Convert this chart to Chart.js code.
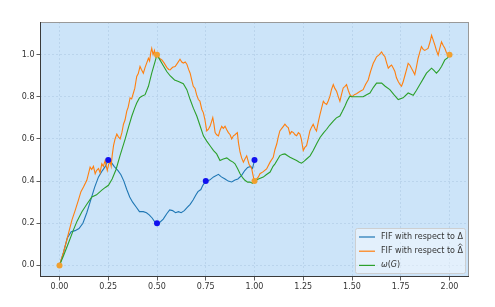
<!DOCTYPE html>
<html>
<head>
<meta charset="utf-8">
<script src="https://cdn.jsdelivr.net/npm/chart.js@4/dist/chart.umd.min.js"></script>
<style>
  html, body { margin: 0; padding: 0; background: #fff; }
  #wrap { width: 495px; height: 307px; }
</style>
</head>
<body>
<div id="wrap"><canvas id="chart" width="495" height="307"></canvas></div>
<script>
// ------------------------------------------------------------
//  Data
// ------------------------------------------------------------
const labels = ['FIF with respect to Δ', 'FIF with respect to Δ̂', 'ω(G)']

const xTicks = [0, 0.25, 0.5, 0.75, 1, 1.25, 1.5, 1.75, 2]
const yTicks = [0, 0.2, 0.4, 0.6, 0.8, 1.0]

const blueX = [0, 0.02, 0.04, 0.06, 0.08, 0.10, 0.12, 0.14, 0.16, 0.18, 0.20, 0.22, 0.235, 0.25,
  0.265, 0.28, 0.30, 0.315, 0.33, 0.345, 0.36, 0.375, 0.395, 0.41, 0.43, 0.446, 0.46, 0.475, 0.49, 0.5,
  0.515, 0.532, 0.55, 0.565, 0.58, 0.595, 0.61, 0.624, 0.64, 0.655, 0.67, 0.685, 0.70, 0.71, 0.725, 0.735, 0.75,
  0.77, 0.79, 0.815, 0.83, 0.849, 0.865, 0.883, 0.90, 0.915, 0.934, 0.95, 0.965, 0.98, 0.99, 1.0]
const blueY = [0, 0.06, 0.13, 0.16, 0.165, 0.175, 0.2, 0.25, 0.31, 0.37, 0.42, 0.45, 0.47, 0.5,
  0.49, 0.47, 0.45, 0.43, 0.40, 0.36, 0.325, 0.3, 0.275, 0.255, 0.255, 0.25, 0.24, 0.225, 0.205, 0.2,
  0.205, 0.22, 0.245, 0.263, 0.26, 0.25, 0.255, 0.25, 0.26, 0.275, 0.29, 0.31, 0.335, 0.35, 0.36, 0.38, 0.4,
  0.405, 0.42, 0.432, 0.42, 0.41, 0.40, 0.396, 0.405, 0.41, 0.427, 0.45, 0.465, 0.47, 0.46, 0.5]

const orangeX = [0, 0.02, 0.04, 0.064, 0.08, 0.097, 0.11, 0.123, 0.14, 0.15, 0.157, 0.165, 0.174, 0.183, 0.19,
  0.2, 0.208, 0.217, 0.225, 0.234, 0.24, 0.245, 0.252, 0.26, 0.265, 0.27, 0.277, 0.285, 0.294, 0.302, 0.311,
  0.32, 0.328, 0.336, 0.345, 0.352, 0.362, 0.37, 0.379, 0.386, 0.396, 0.404, 0.413, 0.42, 0.43, 0.439, 0.447,
  0.456, 0.462, 0.468, 0.473, 0.48, 0.487, 0.493, 0.5, 0.51, 0.525, 0.537, 0.55, 0.56, 0.567, 0.58, 0.593,
  0.605, 0.618, 0.627, 0.635, 0.645, 0.653, 0.662, 0.67, 0.678, 0.686, 0.695, 0.703, 0.712, 0.72, 0.73, 0.738,
  0.746, 0.755, 0.763, 0.772, 0.779, 0.786, 0.792, 0.798, 0.806, 0.815, 0.823, 0.832, 0.84, 0.849, 0.857,
  0.866, 0.875, 0.883, 0.892, 0.9, 0.912, 0.918, 0.926, 0.934, 0.943, 0.951, 0.96, 0.966, 0.972, 0.979,
  0.986, 0.992, 0.997, 1.0,
  1.01, 1.02, 1.028, 1.045, 1.062, 1.08, 1.096, 1.105, 1.114, 1.122, 1.13, 1.14, 1.148, 1.156, 1.165, 1.173,
  1.182, 1.19, 1.2, 1.208, 1.216, 1.225, 1.233, 1.24, 1.25, 1.258, 1.267, 1.275, 1.284, 1.292, 1.301, 1.31,
  1.318, 1.327, 1.336, 1.345, 1.353, 1.36, 1.37, 1.378, 1.387, 1.395, 1.404, 1.412, 1.421, 1.43, 1.438, 1.446,
  1.455, 1.464, 1.472, 1.481, 1.489, 1.5, 1.512, 1.523, 1.54, 1.557, 1.57, 1.583, 1.595, 1.609, 1.618, 1.626,
  1.64, 1.652, 1.66, 1.669, 1.678, 1.686, 1.695, 1.703, 1.712, 1.72, 1.728, 1.737, 1.745, 1.754, 1.762, 1.771,
  1.78, 1.788, 1.797, 1.805, 1.814, 1.822, 1.83, 1.839, 1.847, 1.856, 1.865, 1.873, 1.882, 1.89, 1.9, 1.908,
  1.916, 1.925, 1.933, 1.942, 1.95, 1.959, 1.967, 1.976, 1.984, 1.993, 2.0]
const orangeY = [0, 0.06, 0.13, 0.216, 0.26, 0.31, 0.35, 0.372, 0.404, 0.44, 0.466, 0.455, 0.47, 0.435, 0.45,
  0.46, 0.44, 0.482, 0.47, 0.498, 0.47, 0.45, 0.48, 0.49, 0.47, 0.52, 0.568, 0.6, 0.623, 0.61, 0.6,
  0.63, 0.67, 0.69, 0.732, 0.75, 0.795, 0.79, 0.818, 0.84, 0.897, 0.91, 0.944, 0.93, 0.912, 0.94, 0.96,
  0.983, 0.97, 1.01, 1.03, 1.0, 1.02, 0.99, 1.0, 0.985, 0.975, 0.96, 0.94, 0.93, 0.928, 0.94, 0.944,
  0.96, 0.978, 0.965, 0.96, 0.965, 0.955, 0.93, 0.912, 0.88, 0.85, 0.84, 0.81, 0.787, 0.78, 0.74, 0.724,
  0.69, 0.638, 0.645, 0.66, 0.68, 0.701, 0.67, 0.63, 0.62, 0.615, 0.64, 0.66, 0.65, 0.66, 0.645,
  0.63, 0.62, 0.6, 0.615, 0.62, 0.63, 0.58, 0.537, 0.51, 0.49, 0.505, 0.52, 0.5, 0.48, 0.47,
  0.458, 0.43, 0.41, 0.4,
  0.41, 0.42, 0.435, 0.445, 0.458, 0.49, 0.513, 0.55, 0.576, 0.61, 0.638, 0.65, 0.66, 0.67, 0.66, 0.654,
  0.623, 0.635, 0.63, 0.62, 0.615, 0.63, 0.623, 0.6, 0.545, 0.56, 0.568, 0.6, 0.638, 0.655, 0.67, 0.65,
  0.638, 0.68, 0.717, 0.75, 0.779, 0.77, 0.764, 0.78, 0.803, 0.835, 0.858, 0.84, 0.826, 0.8, 0.779, 0.81,
  0.842, 0.85, 0.858, 0.83, 0.811, 0.8, 0.81, 0.815, 0.825, 0.834, 0.86, 0.88, 0.92, 0.959, 0.975, 0.99,
  1.0, 1.013, 1.0, 0.99, 0.96, 0.936, 0.945, 0.951, 0.935, 0.92, 0.89, 0.873, 0.86, 0.85, 0.87, 0.9,
  0.93, 0.959, 0.95, 0.935, 0.92, 0.905, 0.94, 0.983, 1.01, 1.038, 1.025, 1.02, 1.025, 1.03, 1.06, 1.092,
  1.07, 1.045, 1.02, 0.998, 1.03, 1.061, 1.045, 1.03, 1.01, 0.998, 1.0]

const greenX = [0, 0.02, 0.046, 0.07, 0.09, 0.115, 0.14, 0.166, 0.19, 0.217, 0.235, 0.251, 0.27, 0.29, 0.31,
  0.337, 0.355, 0.371, 0.385, 0.396, 0.41, 0.422, 0.439, 0.456, 0.473, 0.49, 0.5, 0.512, 0.525, 0.55, 0.567,
  0.59, 0.61, 0.635, 0.653, 0.67, 0.687, 0.704, 0.72, 0.738, 0.755, 0.772, 0.79, 0.806, 0.823, 0.84, 0.858,
  0.875, 0.89, 0.9, 0.913, 0.926, 0.94, 0.951, 0.965, 0.977, 0.99, 1.0, 1.02, 1.045, 1.06, 1.08, 1.095,
  1.105, 1.12, 1.13, 1.145, 1.156, 1.17, 1.182, 1.2, 1.216, 1.23, 1.241, 1.255, 1.267, 1.285, 1.301, 1.32,
  1.336, 1.355, 1.37, 1.385, 1.404, 1.42, 1.438, 1.45, 1.464, 1.475, 1.489, 1.5, 1.53, 1.557, 1.575, 1.592,
  1.61, 1.626, 1.652, 1.67, 1.694, 1.715, 1.737, 1.762, 1.788, 1.814, 1.83, 1.848, 1.865, 1.882, 1.908, 1.92,
  1.933, 1.946, 1.959, 1.976, 1.99, 2.0]
const greenY = [0, 0.045, 0.106, 0.165, 0.21, 0.255, 0.29, 0.325, 0.335, 0.357, 0.37, 0.38, 0.41, 0.455, 0.52,
  0.6, 0.66, 0.709, 0.745, 0.771, 0.795, 0.803, 0.81, 0.85, 0.912, 0.967, 1.0, 0.98, 0.959, 0.92, 0.9,
  0.88, 0.873, 0.862, 0.834, 0.787, 0.745, 0.709, 0.665, 0.615, 0.59, 0.568, 0.545, 0.529, 0.498, 0.505, 0.51,
  0.498, 0.49, 0.482, 0.46, 0.435, 0.415, 0.404, 0.395, 0.396, 0.39, 0.4, 0.41, 0.419, 0.43, 0.443, 0.47,
  0.482, 0.505, 0.521, 0.527, 0.529, 0.52, 0.513, 0.505, 0.498, 0.49, 0.485, 0.495, 0.505, 0.52, 0.545, 0.58,
  0.607, 0.63, 0.646, 0.665, 0.685, 0.7, 0.709, 0.73, 0.756, 0.78, 0.803, 0.8, 0.8, 0.8, 0.81, 0.818,
  0.845, 0.865, 0.865, 0.85, 0.834, 0.81, 0.787, 0.795, 0.818, 0.807, 0.83, 0.858, 0.885, 0.912, 0.936, 0.925,
  0.912, 0.925, 0.944, 0.975, 0.985, 1.0]

const blueDotX = [0.25, 0.5, 0.75, 1.0]
const blueDotY = [0.5, 0.2, 0.4, 0.5]
const orangeDotX = [0, 0.5, 1.0, 2.0]
const orangeDotY = [0, 1.0, 0.4, 1.0]

// ------------------------------------------------------------
//  Helpers
// ------------------------------------------------------------
const pts = (xs, ys) => xs.map((x, i) => ({ x, y: ys[i] }))
const FONT = '"DejaVu Sans", sans-serif'

const colors = {
  blue:   '#1f77b4',
  orange: '#ff7f0e',
  green:  '#2ca02c',
}

// fondo del área de ejes + marco
const framePlugin = {
  id: 'frame',
  beforeDraw(chart) {
    const { ctx, chartArea: a } = chart
    ctx.save()
    ctx.fillStyle = '#ffffff'
    ctx.fillRect(0, 0, chart.width, chart.height)
    ctx.fillStyle = '#cce4f9'
    ctx.fillRect(a.left, a.top, a.right - a.left, a.bottom - a.top)
    ctx.restore()
  },
  afterDraw(chart) {
    const { ctx, chartArea: a } = chart
    ctx.save()
    ctx.lineWidth = 1
    ctx.strokeStyle = '#999999'
    ctx.beginPath()
    ctx.moveTo(a.left, a.top + 0.5); ctx.lineTo(a.right, a.top + 0.5)
    ctx.moveTo(a.right - 0.5, a.top); ctx.lineTo(a.right - 0.5, a.bottom)
    ctx.stroke()
    ctx.strokeStyle = '#3a3a3a'
    ctx.beginPath()
    ctx.moveTo(a.left + 0.5, a.top); ctx.lineTo(a.left + 0.5, a.bottom)
    ctx.moveTo(a.left, a.bottom - 0.5); ctx.lineTo(a.right, a.bottom - 0.5)
    ctx.stroke()
    ctx.restore()
  }
}

// leyenda estilo matplotlib abajo a la derecha
const legendPlugin = {
  id: 'boxLegend',
  afterDraw(chart) {
    const { ctx, chartArea: a } = chart
    const w = 110, h = 45
    const x0 = a.right - 4 - w, y0 = a.bottom - 4 - h
    ctx.save()
    ctx.fillStyle = 'rgba(255,255,255,0.45)'
    ctx.strokeStyle = 'rgba(204,204,204,0.9)'
    ctx.lineWidth = 1
    ctx.beginPath()
    ctx.roundRect(x0 + 0.5, y0 + 0.5, w, h, 2)
    ctx.fill()
    ctx.stroke()

    // el sombrero de Δ̂ se dibuja aparte: la combinación no se ve a 8px
    const base = labels[0]
    const rows = [
      { color: colors.blue,   parts: [[base, false]] },
      { color: colors.orange, parts: [[base, false]], hat: true },
      { color: colors.green,  parts: [['ω', true], ['(', false], ['G', true], [')', false]] },
    ]
    ctx.textBaseline = 'middle'
    ctx.fillStyle = '#333'
    rows.forEach((r, i) => {
      const y = y0 + 9 + i * 14.2
      ctx.strokeStyle = r.color
      ctx.lineWidth = 1.2
      ctx.beginPath()
      ctx.moveTo(x0 + 4, y); ctx.lineTo(x0 + 20, y)
      ctx.stroke()
      let tx = x0 + 26
      r.parts.forEach(([t, it]) => {
        ctx.font = (it ? 'italic ' : '') + '8px ' + FONT
        ctx.fillStyle = '#333'
        ctx.fillText(t, tx, y)
        tx += ctx.measureText(t).width
      })
      if (r.hat) {
        ctx.font = '8px ' + FONT
        const dw = ctx.measureText('Δ').width
        const cx = tx - dw / 2
        ctx.strokeStyle = '#333'
        ctx.lineWidth = 0.8
        ctx.beginPath()
        ctx.moveTo(cx - 2, y - 5.5); ctx.lineTo(cx, y - 7.5); ctx.lineTo(cx + 2, y - 5.5)
        ctx.stroke()
      }
    })
    ctx.restore()
  }
}

// ------------------------------------------------------------
//  Chart
// ------------------------------------------------------------
function lineSet(label, data, color, order) {
  return {
    label, data, order,
    borderColor: color,
    backgroundColor: color,
    borderWidth: 1.1,
    pointRadius: 0,
    tension: 0,
    fill: false,
  }
}

function dotSet(label, data, color, order) {
  return {
    label, data, order,
    showLine: false,
    pointRadius: 3,
    pointBorderWidth: 0,
    pointBackgroundColor: color,
    borderColor: color,
  }
}

new Chart(document.getElementById('chart').getContext('2d'), {
  type: 'line',
  data: {
    datasets: [
      dotSet('blue dots', pts(blueDotX, blueDotY), '#1010f0', 0),
      dotSet('orange dots', pts(orangeDotX, orangeDotY), '#f0a030', 1),
      lineSet(labels[2], pts(greenX, greenY), colors.green, 2),
      lineSet(labels[1], pts(orangeX, orangeY), colors.orange, 3),
      lineSet(labels[0], pts(blueX, blueY), colors.blue, 4),
    ]
  },
  options: {
    responsive: false,
    animation: false,
    devicePixelRatio: 1,
    layout: { padding: { top: 22, right: 26, left: 0, bottom: 0 } },
    plugins: {
      legend:  { display: false },
      tooltip: { enabled: false },
    },
    scales: {
      x: {
        type: 'linear',
        min: -0.1, max: 2.1,
        afterBuildTicks: s => { s.ticks = xTicks.map(v => ({ value: v })) },
        afterFit: s => { s.height = 30 },
        ticks: {
          color: '#333', padding: 2, maxRotation: 0, autoSkip: false,
          font: { family: FONT, size: 8 },
          callback: v => Number(v).toFixed(2),
        },
        grid: { color: 'rgba(150,180,210,0.4)', tickColor: '#333', tickLength: 3.5, lineWidth: 0.8 },
        border: { display: false, dash: [2, 2] },
      },
      y: {
        type: 'linear',
        min: -0.055, max: 1.155,
        afterBuildTicks: s => { s.ticks = yTicks.map(v => ({ value: v })) },
        afterFit: s => { s.width = 40 },
        ticks: {
          color: '#333', padding: 2,
          font: { family: FONT, size: 8 },
          callback: v => Number(v).toFixed(1),
        },
        grid: { color: 'rgba(150,180,210,0.4)', tickColor: '#333', tickLength: 3.5, lineWidth: 0.8 },
        border: { display: false, dash: [2, 2] },
      }
    }
  },
  plugins: [framePlugin, legendPlugin]
})
</script>
</body>
</html>
